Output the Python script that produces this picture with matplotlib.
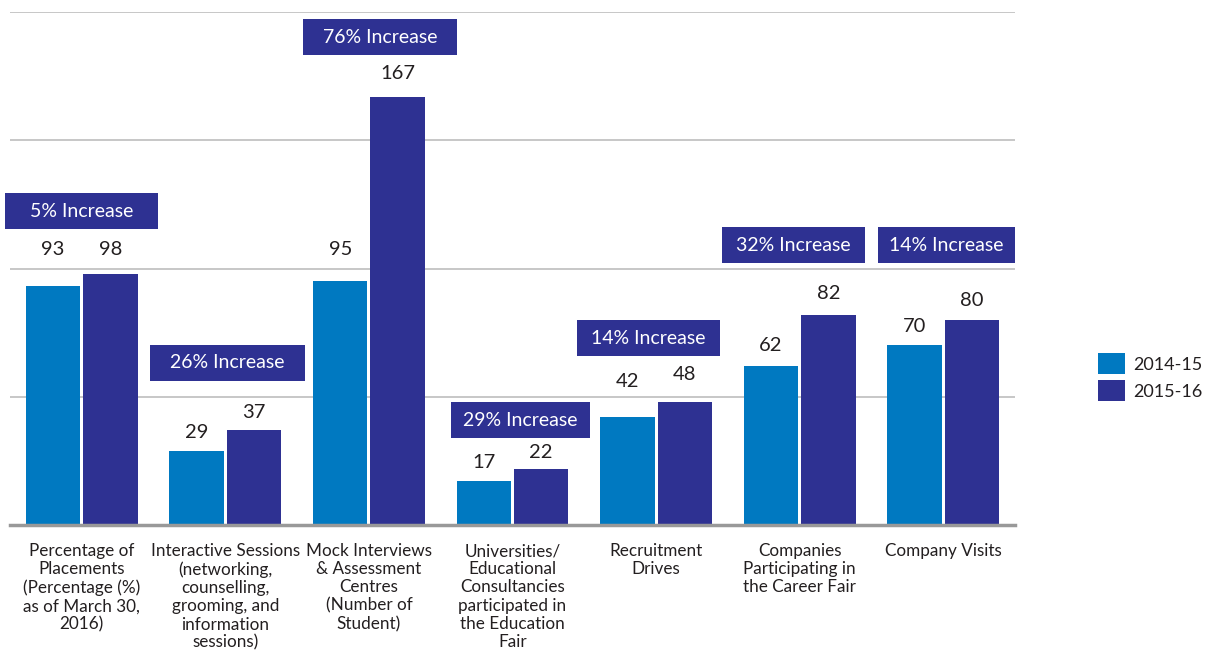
#!/usr/bin/python3
# -*- coding: utf-8 -*-

import numpy as np
import matplotlib
matplotlib.use('Agg')
import matplotlib.pyplot as plt
import matplotlib.patches as patches

## data
categories = ['Percentage of\nPlacements\n(Percentage (%)\nas of March 30,\n2016)',
              'Interactive Sessions\n(networking,\ncounselling,\ngrooming, and\ninformation\nsessions)',
              'Mock Interviews\n& Assessment\nCentres\n(Number of\nStudent)',
              'Universities/\nEducational\nConsultancies\nparticipated in\nthe Education\nFair',
              'Recruitment\nDrives',
              'Companies\nParticipating in\nthe Career Fair',
              'Company Visits']
vals_1415 = [93, 29, 95, 17, 42, 62, 70]
vals_1516 = [98, 37, 167, 22, 48, 82, 80]
increase = ['5%', '26%', '76%', '29%', '14%', '32%', '14%']
series_names = ['2014-15', '2015-16']

## layout: value label heights (data units) and increase boxes
lab_y_1415 = [107.6, 36.0, 107.6, 24.2, 55.8, 69.8, 77.2]
lab_y_1516 = [107.6, 43.8, 176.2, 28.1, 58.5, 90.1, 87.7]
box_left = [-0.535, 0.475, 1.541, 2.572, 3.449, 4.459, 5.546]
box_w = [1.066, 1.080, 1.073, 0.968, 0.996, 0.996, 0.954]
box_yc = [122.4, 63.2, 190.1, 40.9, 72.9, 109.0, 109.0]
box_h = 14.0

c_light = '#0079C1'
c_dark = '#2E3192'
text_col = '#231F20'

plt.rcParams['font.family'] = ['Lato', 'DejaVu Sans']

fig = plt.figure(figsize=(12.07, 6.5), dpi=100)
ax = fig.add_axes([10 / 1207, 125 / 650, 1005 / 1207, 513 / 650])

x = np.arange(len(categories))
w = 0.38
off = 0.2

ax.bar(x - off, vals_1415, w, color=c_light, label=series_names[0], zorder=3)
ax.bar(x + off, vals_1516, w, color=c_dark, label=series_names[1], zorder=3)

for i in range(len(categories)):
    ax.text(x[i] - off, lab_y_1415[i], str(vals_1415[i]), ha='center',
            va='center', fontsize=14.5, color=text_col)
    ax.text(x[i] + off, lab_y_1516[i], str(vals_1516[i]), ha='center',
            va='center', fontsize=14.5, color=text_col)
    ## increase box
    rect = patches.Rectangle((box_left[i], box_yc[i] - box_h / 2), box_w[i], box_h,
                             facecolor=c_dark, edgecolor='none', zorder=5,
                             clip_on=False)
    ax.add_patch(rect)
    ax.text(box_left[i] + box_w[i] / 2, box_yc[i], increase[i] + ' Increase',
            ha='center', va='center', fontsize=14, color='white', zorder=6)

ax.set_xlim(-0.5, 6.5)
ax.set_ylim(0, 200)
ax.set_yticks([50, 100, 150, 200])
ax.yaxis.grid(True, color='#BDBDBD', linewidth=1.2, zorder=0)
ax.tick_params(axis='y', left=False, labelleft=False)
ax.set_xticks(x)
ax.set_xticklabels(categories, fontsize=12.3, color=text_col, linespacing=1.17)
ax.tick_params(axis='x', length=0, pad=13)
for s in ['top', 'right', 'left']:
    ax.spines[s].set_visible(False)
ax.spines['bottom'].set_color('#999999')
ax.spines['bottom'].set_linewidth(2.5)
ax.spines['bottom'].set_zorder(4)

ax.legend(loc='upper left', bbox_to_anchor=(1098 / 1207, 1 - 353 / 650),
          bbox_transform=fig.transFigure, frameon=False, borderpad=0,
          borderaxespad=0, fontsize=13, handlelength=1.5, handleheight=1.45,
          handletextpad=0.45, labelspacing=0.3, labelcolor=text_col)

fig.savefig('out.png', dpi=100)
